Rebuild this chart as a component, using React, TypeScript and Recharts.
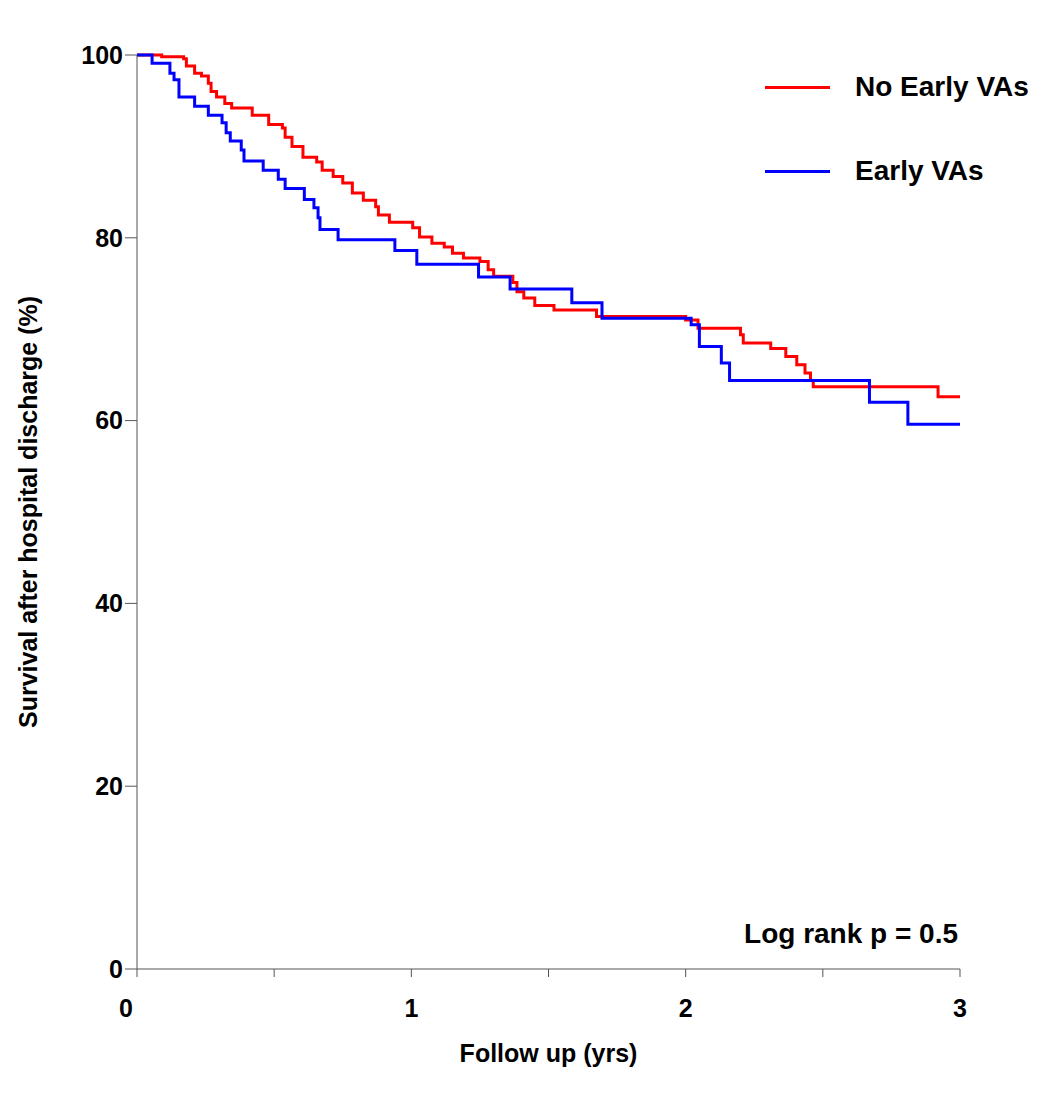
import React from "react";
import { LineChart, Line, XAxis, YAxis, Label } from "recharts";

// Kaplan-Meier steps: [years, survival %]
const noEarlyVAs: [number, number][] = [
  [0, 100], [0.09, 99.8], [0.17, 99.6], [0.18, 98.8], [0.21, 98.0], [0.235, 97.7],
  [0.26, 96.9], [0.27, 96.0], [0.29, 95.4], [0.32, 94.7], [0.345, 94.2], [0.42, 93.4],
  [0.48, 92.4], [0.53, 92.0], [0.54, 91.0], [0.565, 90.0], [0.605, 88.8], [0.655, 88.3],
  [0.675, 87.4], [0.715, 86.7], [0.75, 86.0], [0.785, 84.9], [0.825, 84.1], [0.87, 83.4],
  [0.88, 82.5], [0.92, 81.7], [1.005, 81.1], [1.03, 80.1], [1.075, 79.4], [1.12, 79.0],
  [1.15, 78.3], [1.19, 77.8], [1.25, 77.4], [1.28, 76.5], [1.3, 75.8], [1.37, 75.1],
  [1.385, 74.1], [1.41, 73.4], [1.45, 72.6], [1.52, 72.1], [1.675, 71.4], [2.0, 71.0],
  [2.045, 70.1], [2.2, 69.4], [2.21, 68.5], [2.31, 67.9], [2.365, 67.0], [2.405, 66.1],
  [2.435, 65.2], [2.455, 64.4], [2.465, 63.7], [2.92, 62.6], [3, 62.6],
];

const earlyVAs: [number, number][] = [
  [0, 100], [0.055, 99.1], [0.12, 98.0], [0.135, 97.3], [0.153, 95.4], [0.21, 94.4],
  [0.26, 93.4], [0.31, 92.6], [0.325, 91.5], [0.34, 90.6], [0.38, 89.6], [0.39, 88.4],
  [0.46, 87.4], [0.515, 86.4], [0.54, 85.4], [0.61, 84.2], [0.645, 83.3], [0.66, 82.2],
  [0.667, 80.9], [0.733, 79.8], [0.94, 78.6], [1.02, 77.1], [1.245, 75.7], [1.36, 74.4],
  [1.585, 72.9], [1.695, 71.2], [2.02, 70.5], [2.05, 68.1], [2.13, 66.3], [2.16, 64.4],
  [2.67, 62.0], [2.81, 59.6], [3, 59.6],
];

const xTicks = [0, 0.5, 1, 1.5, 2, 2.5, 3];
const yTicks = [0, 20, 40, 60, 80, 100];

const toRows = (s: [number, number][]) => s.map(([x, y]) => ({ x, y }));
const font = "'Liberation Sans', Arial, sans-serif";

const XTick = (props: any) => {
  const { x, y, payload } = props;
  if (!Number.isInteger(payload.value)) return null;
  const dx = payload.value === 0 ? -11 : 0;
  return (
    <text x={x + dx} y={y + 38} textAnchor="middle" fontSize={25} fontWeight="bold" fill="#000" fontFamily={font}>
      {payload.value}
    </text>
  );
};

export default function App() {
  return (
    <div style={{ position: "relative", width: 1042, height: 1086, fontFamily: font }}>
      <LineChart width={1042} height={1086} margin={{ top: 47, right: 90, left: 69, bottom: 65 }}>
        <XAxis
          type="number"
          dataKey="x"
          domain={[0, 3]}
          ticks={xTicks}
          stroke="#555"
          tickSize={8}
          tick={<XTick />}
          height={60}
        >
          <Label value="Follow up (yrs)" position="bottom" offset={15} style={{ fontSize: 25, fontWeight: "bold", fill: "#000", fontFamily: font }} />
        </XAxis>
        <YAxis
          type="number"
          domain={[0, 100]}
          ticks={yTicks}
          stroke="#555"
          tickSize={12}
          width={60}
          tick={{ fontSize: 25, fontWeight: "bold", fill: "#000", fontFamily: font }}
        >
          <Label value="Survival after hospital discharge (%)" angle={-90} position="left" offset={49} style={{ fontSize: 25, fontWeight: "bold", fill: "#000", fontFamily: font, textAnchor: "middle" }} />
        </YAxis>
        <Line data={toRows(noEarlyVAs)} dataKey="y" type="stepAfter" stroke="#ff0000" strokeWidth={3} dot={false} isAnimationActive={false} />
        <Line data={toRows(earlyVAs)} dataKey="y" type="stepAfter" stroke="#0000ff" strokeWidth={3} dot={false} isAnimationActive={false} />
      </LineChart>
      {[
        { label: "No Early VAs", color: "#ff0000", top: 80 },
        { label: "Early VAs", color: "#0000ff", top: 164 },
      ].map((l) => (
        <div key={l.label} style={{ position: "absolute", left: 757, top: l.top - 17, display: "flex", alignItems: "center" }}>
          <div style={{ width: 65, height: 3, background: l.color, marginRight: 25 }} />
          <span style={{ fontSize: 28, fontWeight: "bold" }}>{l.label}</span>
        </div>
      ))}
      <div style={{ position: "absolute", right: 92, top: 910, fontSize: 28, fontWeight: "bold" }}>Log rank p = 0.5</div>
    </div>
  );
}
